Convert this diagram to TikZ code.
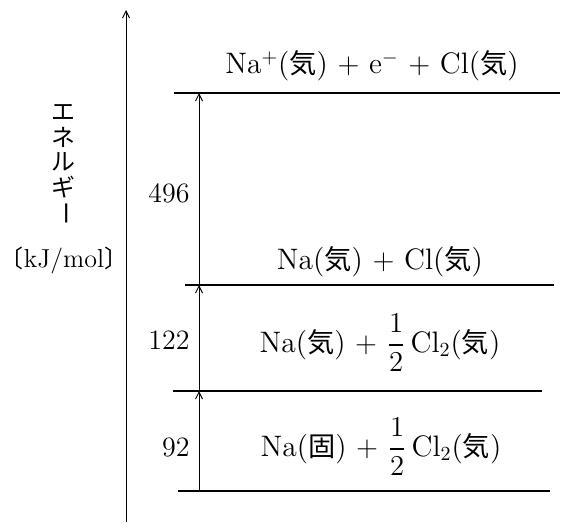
\documentclass[tikz,border=0pt]{standalone}
\usepackage{fontspec}
\usepackage{amsmath}
\newfontfamily\jpfont[Scale=0.92]{Noto Sans CJK JP}
\usetikzlibrary{arrows.meta}

\newcommand{\kitai}{{\jpfont 気}}
\newcommand{\kotai}{{\jpfont 固}}

\begin{document}
\begin{tikzpicture}[x=0.5pt, y=0.5pt,
  level/.style={line width=0.8pt},
  up/.style={line width=0.5pt, -{Straight Barb[length=3.5pt,width=3.5pt]}},
  lbl/.style={inner sep=0pt, font=\fontsize{14.8}{18}\selectfont},
  num/.style={inner sep=0pt, anchor=east, font=\fontsize{14}{17}\selectfont},
  kana/.style={inner sep=0pt, font=\fontsize{13}{16}\jpfont}]
\useasboundingbox (0,0) rectangle (567,-524);
% energy axis
\coordinate (ebot) at (126,-522);
\coordinate (etop) at (126,-10);
\draw[up] (ebot) -- (etop);
\node[kana] (k1) at (63,-112) {エ};
\node[kana] (k2) at (63,-137) {ネ};
\node[kana] (k3) at (63,-162) {ル};
\node[kana] (k4) at (63,-187) {ギ};
\node[kana, rotate=-90] (k5) at (63,-213) {ー};
\node[inner sep=0pt, font=\fontsize{13}{16}\selectfont] (unit) at (64,-260)
  {{\jpfont\kern-0.45em 〔}kJ/mol{\jpfont 〕\kern-0.45em}};
% levels
\draw[level] (174,-93) -- (560,-93);
\draw[level] (185,-285) -- (554,-285);
\draw[level] (173,-391) -- (542,-391);
\draw[level] (178,-491) -- (550,-491);
\coordinate (s0) at (199,-491);
\coordinate (s1) at (199,-391);
\coordinate (s2) at (199,-285);
\coordinate (s3) at (199,-93);
% steps
\draw[up] (s0) -- (s1);
\draw[up] (s1) -- (s2);
\draw[up] (s2) -- (s3);
\node[num] (d1) at (190,-447) {92};
\node[num] (d2) at (190,-340) {122};
\node[num] (d3) at (190,-193) {496};
% species
\node[lbl] (t3) at (372,-66) {Na$^{+}$(\kitai) $+$ e$^{-}$ $+$ Cl(\kitai)};
\node[lbl] (t2) at (380,-262) {Na(\kitai) $+$ Cl(\kitai)};
\node[lbl] (t1) at (380,-343) {Na(\kitai) $+$ $\dfrac{1}{2}$\,Cl$_2$(\kitai)};
\node[lbl] (t0) at (381,-447) {Na(\kotai) $+$ $\dfrac{1}{2}$\,Cl$_2$(\kitai)};
\end{tikzpicture}
\end{document}
